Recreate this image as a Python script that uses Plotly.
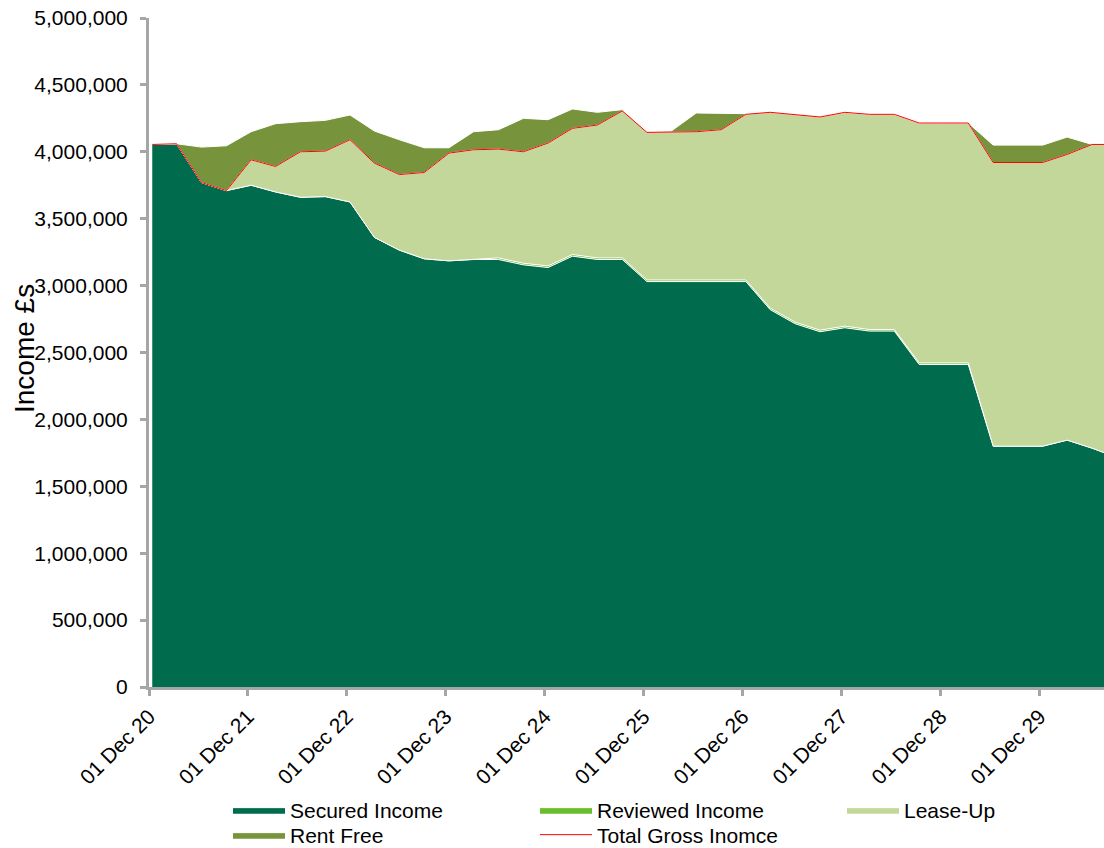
import pandas as pd
import plotly.graph_objects as go

# Quarterly dates (40 points, last one runs past the right edge)
dates = pd.date_range("2020-12-13", periods=40, freq=pd.DateOffset(months=3))

secured = [4055000, 4060000, 3770000, 3710000, 3750000, 3700000, 3660000, 3665000,
           3625000, 3360000, 3265000, 3200000, 3185000, 3195000, 3195000, 3155000,
           3135000, 3220000, 3195000, 3195000, 3030000, 3030000, 3030000, 3030000,
           3030000, 2820000, 2715000, 2655000, 2685000, 2660000, 2660000, 2410000,
           2410000, 2410000, 1800000, 1800000, 1800000, 1845000, 1785000, 1715000]

reviewed = [0] * 14 + [12000] * 20 + [0] * 6

lease_up = [0, 0, 0, 0, 190000, 190000, 340000, 340000,
            465000, 555000, 565000, 645000, 805000, 820000, 813000, 833000,
            918000, 943000, 993000, 1098000, 1103000, 1103000, 1108000, 1123000,
            1238000, 1463000, 1548000, 1593000, 1598000, 1608000, 1608000, 1793000,
            1793000, 1793000, 2120000, 2120000, 2120000, 2135000, 2270000, 2340000]

rent_free = [0, 0, 265000, 335000, 210000, 320000, 225000, 230000,
             185000, 240000, 260000, 185000, 40000, 135000, 145000, 250000,
             175000, 145000, 95000, 10000, 5000, 10000, 140000, 125000,
             5000, 5000, 5000, 5000, 0, 0, 0, 0,
             0, 0, 130000, 130000, 130000, 130000, 0, 0]

total_gross = [s + r + l for s, r, l in zip(secured, reviewed, lease_up)]

tick_dates = [f"{y}-12-01" for y in range(2020, 2030)]
tick_text = [f"01 Dec {str(y)[2:]}" for y in range(2020, 2030)]

FONT = "Liberation Sans, Arial, sans-serif"
AXIS = "#a6a6a6"
PLOT_H = 687 - 18
PLOT_W = 1104 - 149

fig = go.Figure()
series = [
    ("Secured Income", secured, "#006b4d", "legend"),
    ("Reviewed Income", reviewed, "#6abd2b", "legend"),
    ("Lease-Up", lease_up, "#c4d79b", "legend"),
    ("Rent Free", rent_free, "#77933c", "legend2"),
]
for name, vals, col, leg in series:
    fig.add_trace(go.Scatter(
        x=dates, y=vals, name=name, mode="lines", stackgroup="one",
        line=dict(color="white", width=1), fillcolor=col, legend=leg,
    ))
fig.add_trace(go.Scatter(
    x=dates, y=total_gross, name="Total Gross Inomce", mode="lines",
    line=dict(color="#ff0000", width=1), legend="legend2",
))

legend_common = dict(
    orientation="h", xanchor="left", yanchor="top", traceorder="normal",
    entrywidth=240, entrywidthmode="pixels", itemwidth=52,
    font=dict(family=FONT, size=21, color="#000000"),
    tracegroupgap=0, bgcolor="rgba(0,0,0,0)",
)

fig.update_layout(
    width=1104, height=848,
    margin=dict(l=149, r=0, t=18, b=161, autoexpand=False),
    paper_bgcolor="white", plot_bgcolor="white",
    font=dict(family=FONT, size=21, color="#000000"),
    showlegend=True,
    legend=dict(x=(228 - 149) / PLOT_W, y=-(789.5 - 687) / PLOT_H, **legend_common),
    legend2=dict(x=(228 - 149) / PLOT_W, y=-(814.5 - 687) / PLOT_H, **legend_common),
    xaxis=dict(
        type="date", range=["2020-12-01", "2030-07-27"], automargin=False,
        tickmode="array", tickvals=tick_dates, ticktext=tick_text,
        tickangle=-45, ticks="outside", ticklen=6, tickwidth=2.5, tickcolor=AXIS,
        showline=True, linecolor=AXIS, linewidth=3, showgrid=False, zeroline=False,
        tickfont=dict(family=FONT, size=21, color="#000000"),
    ),
    yaxis=dict(
        range=[0, 5000000], tickmode="linear", tick0=0, dtick=500000, automargin=False,
        tickformat=",d", ticks="outside", ticklen=6, tickwidth=2.5, tickcolor=AXIS,
        showline=True, linecolor=AXIS, linewidth=3, showgrid=False, zeroline=False,
        tickfont=dict(family=FONT, size=21, color="#000000"),
        ticklabelstandoff=8,
    ),
    annotations=[dict(
        text="Income £s", textangle=-90, xref="paper", yref="paper",
        x=(25 - 149) / PLOT_W, y=(687 - 349) / PLOT_H, xanchor="center", yanchor="middle",
        showarrow=False, font=dict(family=FONT, size=28, color="#000000"),
    )],
)

fig.write_html("out.html")
